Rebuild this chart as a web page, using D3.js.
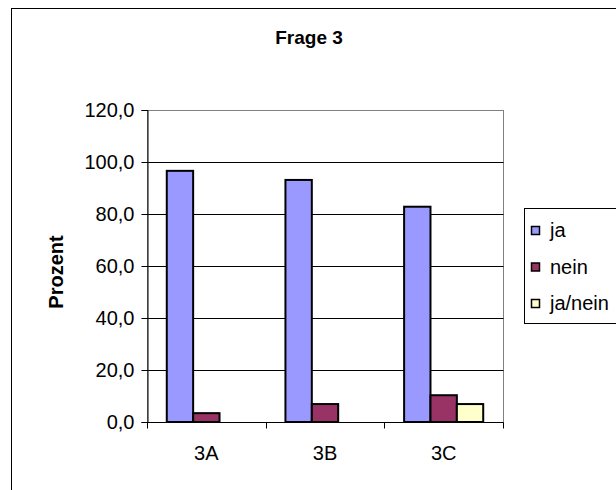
<!DOCTYPE html>
<html>
<head>
<meta charset="utf-8">
<script src="https://cdn.jsdelivr.net/npm/d3@7"></script>
<style>
  html, body { margin: 0; padding: 0; background: #fff; }
  svg { display: block; }
  text { font-family: "Liberation Sans", Arial, sans-serif; fill: #000; }
</style>
</head>
<body>
<svg id="chart" width="616" height="490"></svg>
<script>
// Survey results for question 3, percent of answers per sub-question
const categories = ["3A", "3B", "3C"];
const seriesNames = ["ja", "nein", "ja/nein"];
const jaValues = [96.6, 93.1, 82.8];
const neinValues = [3.4, 6.9, 10.3];
const janeinValues = [0, 0, 6.9];
const yTicks = [0, 20, 40, 60, 80, 100, 120];
const seriesColors = ["#9999FF", "#993366", "#FFFFCC"];

const seriesValues = [jaValues, neinValues, janeinValues];
const rows = categories.map((c, i) => ({
  cat: c,
  values: seriesNames.map((s, k) => ({ series: s, value: seriesValues[k][i], color: seriesColors[k] }))
}));

const svg = d3.select("#chart");
const plot = { left: 147, right: 503, top: 110, bottom: 422 };
const fontSize = 20;

// outer chart frame
svg.append("rect")
  .attr("x", 11.5).attr("y", 8.5)
  .attr("width", 640).attr("height", 520)
  .attr("fill", "#fff").attr("stroke", "#000").attr("stroke-width", 1);

const y = d3.scaleLinear().domain([0, 120]).range([plot.bottom, plot.top]);
const x0 = d3.scaleBand().domain(categories).range([plot.left, plot.right]).paddingInner(0).paddingOuter(0);
const x1 = d3.scaleBand().domain(seriesNames).range([0, x0.bandwidth()]).paddingInner(0).paddingOuter(0.75);

// plot area frame (grey)
svg.append("rect")
  .attr("x", plot.left + 0.5).attr("y", plot.top + 0.5)
  .attr("width", plot.right - plot.left).attr("height", plot.bottom - plot.top)
  .attr("fill", "none").attr("stroke", "#808080").attr("stroke-width", 1);

// horizontal gridlines
svg.append("g").selectAll("line")
  .data(yTicks.filter(t => t > 0 && t < 120))
  .join("line")
  .attr("x1", plot.left).attr("x2", plot.right + 0.5)
  .attr("y1", d => Math.round(y(d)) + 0.5).attr("y2", d => Math.round(y(d)) + 0.5)
  .attr("stroke", "#000").attr("stroke-width", 1);

// bars
const groups = svg.append("g").selectAll("g")
  .data(rows)
  .join("g")
  .attr("transform", d => `translate(${x0(d.cat)},0)`);

groups.selectAll("rect")
  .data(d => d.values.filter(v => v.value > 0))
  .join("rect")
  .attr("x", d => x1(d.series))
  .attr("y", d => y(d.value))
  .attr("width", x1.bandwidth())
  .attr("height", d => y(0) - y(d.value))
  .attr("fill", d => d.color)
  .attr("stroke", "#000")
  .attr("stroke-width", 2);

// y axis
const yAxis = d3.axisLeft(y)
  .tickValues(yTicks)
  .tickSize(6)
  .tickPadding(7)
  .tickFormat(d => d3.format(".1f")(d).replace(".", ","));
const yg = svg.append("g")
  .attr("transform", `translate(${plot.left + 0.5},0)`)
  .call(yAxis);
yg.select(".domain").attr("stroke", "#000");
yg.selectAll(".tick line").attr("stroke", "#000");
yg.selectAll(".tick text")
  .attr("font-family", "'Liberation Sans', Arial, sans-serif")
  .attr("font-size", fontSize)
  .attr("fill", "#000");

// x axis with ticks between categories
const xg = svg.append("g").attr("transform", `translate(0,${plot.bottom + 0.5})`);
xg.append("line")
  .attr("x1", plot.left).attr("x2", plot.right + 0.5)
  .attr("stroke", "#000");
const boundaries = categories.map(c => x0(c)).concat([x0(categories[categories.length - 1]) + x0.bandwidth()]);
xg.selectAll("line.tick")
  .data(boundaries)
  .join("line")
  .attr("class", "tick")
  .attr("x1", d => Math.round(d) + 0.5).attr("x2", d => Math.round(d) + 0.5)
  .attr("y1", 0).attr("y2", 6)
  .attr("stroke", "#000");
xg.selectAll("text")
  .data(categories)
  .join("text")
  .attr("x", d => x0(d) + x0.bandwidth() / 2)
  .attr("y", 37)
  .attr("text-anchor", "middle")
  .attr("font-size", fontSize)
  .text(d => d);

// title
svg.append("text")
  .attr("x", 309).attr("y", 44)
  .attr("text-anchor", "middle")
  .attr("font-size", 19)
  .attr("font-weight", "bold")
  .text("Frage 3");

// y axis title
svg.append("text")
  .attr("transform", "translate(63,272) rotate(-90)")
  .attr("text-anchor", "middle")
  .attr("font-size", fontSize)
  .attr("font-weight", "bold")
  .text("Prozent");

// legend
const legend = svg.append("g");
legend.append("rect")
  .attr("x", 524.5).attr("y", 208.5)
  .attr("width", 140).attr("height", 115)
  .attr("fill", "#fff").attr("stroke", "#000");
const items = legend.selectAll("g.item")
  .data(seriesNames)
  .join("g")
  .attr("class", "item")
  .attr("transform", (d, i) => `translate(0,${230 + i * 36.5})`);
items.append("rect")
  .attr("x", 531.5).attr("y", -3.5)
  .attr("width", 8).attr("height", 8)
  .attr("fill", (d, i) => seriesColors[i])
  .attr("stroke", "#000")
  .attr("stroke-width", 1.5);
items.append("text")
  .attr("x", 550).attr("y", 7)
  .attr("font-size", fontSize)
  .text(d => d);
</script>
</body>
</html>
